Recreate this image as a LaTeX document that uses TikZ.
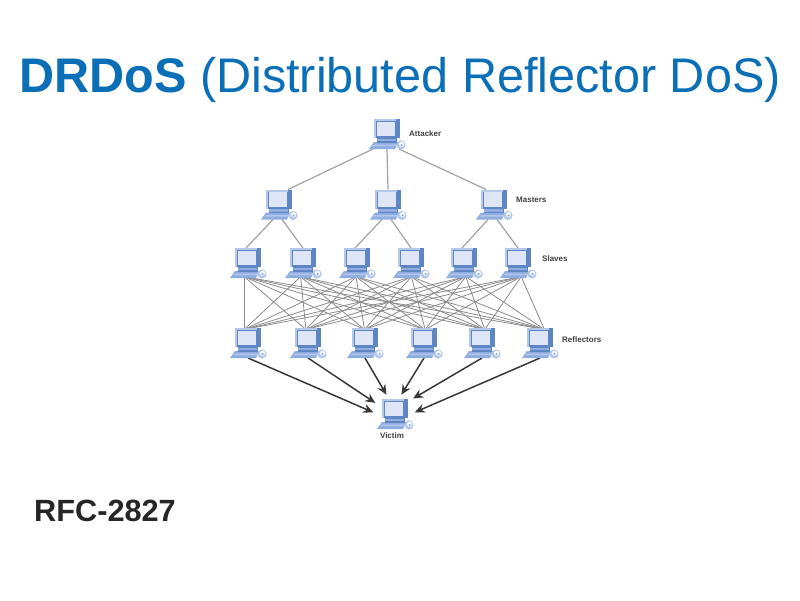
\documentclass[tikz,border=0pt]{standalone}
\usepackage{fontspec}
\setmainfont{Liberation Sans}
\usetikzlibrary{arrows.meta}
\definecolor{titleblue}{HTML}{0B6FB8}
\definecolor{pcdark}{HTML}{5F86C4}
\definecolor{pcmid}{HTML}{8FADE0}
\definecolor{pcscreen}{HTML}{DDE5F6}
\definecolor{pclight}{HTML}{B4C8EC}
\tikzset{
  pcbox/.style={minimum width=36pt,minimum height=30pt,inner sep=0pt,outer sep=0pt},
  treeline/.style={draw=black!36,line width=1.2pt},
  meshline/.style={draw=black!45,line width=.8pt},
  attackline/.style={draw=black!78,line width=1.5pt,-{Stealth[length=10pt,width=9pt]}},
  tag/.style={font=\fontsize{8}{9}\selectfont\bfseries,text=black!75,inner sep=0pt},
  heading/.style={font=\fontsize{48.6}{52}\selectfont,text=titleblue,inner sep=0pt,anchor=west},
  rfc/.style={font=\fontsize{30.7}{33}\selectfont\bfseries,text=black!85,inner sep=0pt,anchor=west},
}
\newcommand{\pcicon}[3]{%
  \begin{scope}[shift={(#2,#3)}]
    % keyboard
    \fill[pcmid] (-13,8) -- (11,8) -- (8,15) -- (-18,15) -- cycle;
    \fill[pclight] (-13,10.5) -- (10,10.5) -- (9,12) -- (-14.5,12) -- cycle;
    % stand
    \fill[pcdark] (-10,3) rectangle (10,8.5);
    \fill[pcmid] (-10,4.5) rectangle (9,7);
    % monitor
    \fill[pcdark] (-13,-15) -- (13,-15) -- (13,4) -- (-13,4) -- cycle;
    \fill[pclight] (-13,-15) rectangle (9,-13);
    \fill[pclight] (-13,-15) rectangle (-11,4);
    \fill[pcscreen] (-10.5,-12.5) rectangle (8,2);
    % mouse
    \fill[pclight] (14,11) circle (4.6);
    \fill[white] (14.6,10.2) circle (2.6);
    \fill[pcmid] (14.6,11) circle (1.3);
  \end{scope}
}
\begin{document}
\begin{tikzpicture}[x=1pt,y=-1pt]
\useasboundingbox (0,0) rectangle (800,600);
\fill[white] (0,0) rectangle (800,600);

\node[pcbox] (a) at (387,134) {};
\foreach \n/\x in {m1/279,m2/388,m3/494} \node[pcbox] (\n) at (\x,204.5) {};
\foreach \n/\x in {s1/248,s2/303,s3/357,s4/411,s5/464,s6/518} \node[pcbox] (\n) at (\x,263) {};
\foreach \n/\x in {r1/248,r2/308,r3/365,r4/424,r5/482,r6/540} \node[pcbox] (\n) at (\x,343) {};
\node[pcbox] (v) at (395,414) {};

% tree lines
\draw[treeline] ([xshift=-14pt]a.south) -- ([xshift=9pt]m1.north);
\draw[treeline] (a.south) -- (m2.north);
\draw[treeline] ([xshift=12pt]a.south) -- ([xshift=-8pt]m3.north);
\foreach \p/\c/\ps/\cs in {m1/s1/-6/-2,m1/s2/3/0,m2/s3/-6/-2,m2/s4/3/0,m3/s5/-6/-2,m3/s6/3/0}
  \draw[treeline] ([xshift=\ps pt]\p.south) -- ([xshift=\cs pt]\c.north);

% mesh
\foreach \c [count=\i] in {s1,s2,s3,s4,s5,s6}
  \foreach \d [count=\j] in {r1,r2,r3,r4,r5,r6}
    \draw[meshline] ([xshift={(\j-3.5)*1.5pt}]\c.south) -- ([xshift={(\i-3.5)*1.5pt}]\d.north);

% attacks
\draw[attackline,shorten >=4pt] (r1.south) -- (v.180);
\draw[attackline,shorten >=2pt] (r2.south) -- (v.151);
\draw[attackline,shorten >=5pt] (r3.south) -- (v.112);
\draw[attackline,shorten >=5pt] (r4.south) -- (v.76);
\draw[attackline,shorten >=1pt] (r5.south) -- (v.41);
\draw[attackline,shorten >=2pt] (r6.south) -- (v.3);

% icons
\pcicon{a}{387}{134}
\foreach \n/\x in {m1/279,m2/388,m3/494} {\pcicon{\n}{\x}{204.5}}
\foreach \n/\x in {s1/248,s2/303,s3/357,s4/411,s5/464,s6/518} {\pcicon{\n}{\x}{263}}
\foreach \n/\x in {r1/248,r2/308,r3/365,r4/424,r5/482,r6/540} {\pcicon{\n}{\x}{343}}
\pcicon{v}{395}{414}

% labels
\node[tag,anchor=west] (la) at (409,133.5) {Attacker};
\node[tag,anchor=west] (lm) at (516,200) {Masters};
\node[tag,anchor=west] (ls) at (542,259) {Slaves};
\node[tag,anchor=west] (lr) at (562,340) {Reflectors};
\node[tag] (lv) at (392,436) {Victim};

\node[heading] (title) at (19,80) {\textbf{DRDoS} (Distributed Reflector DoS)};
\node[rfc] (rfcnum) at (34,511) {RFC-2827};
\end{tikzpicture}
\end{document}
